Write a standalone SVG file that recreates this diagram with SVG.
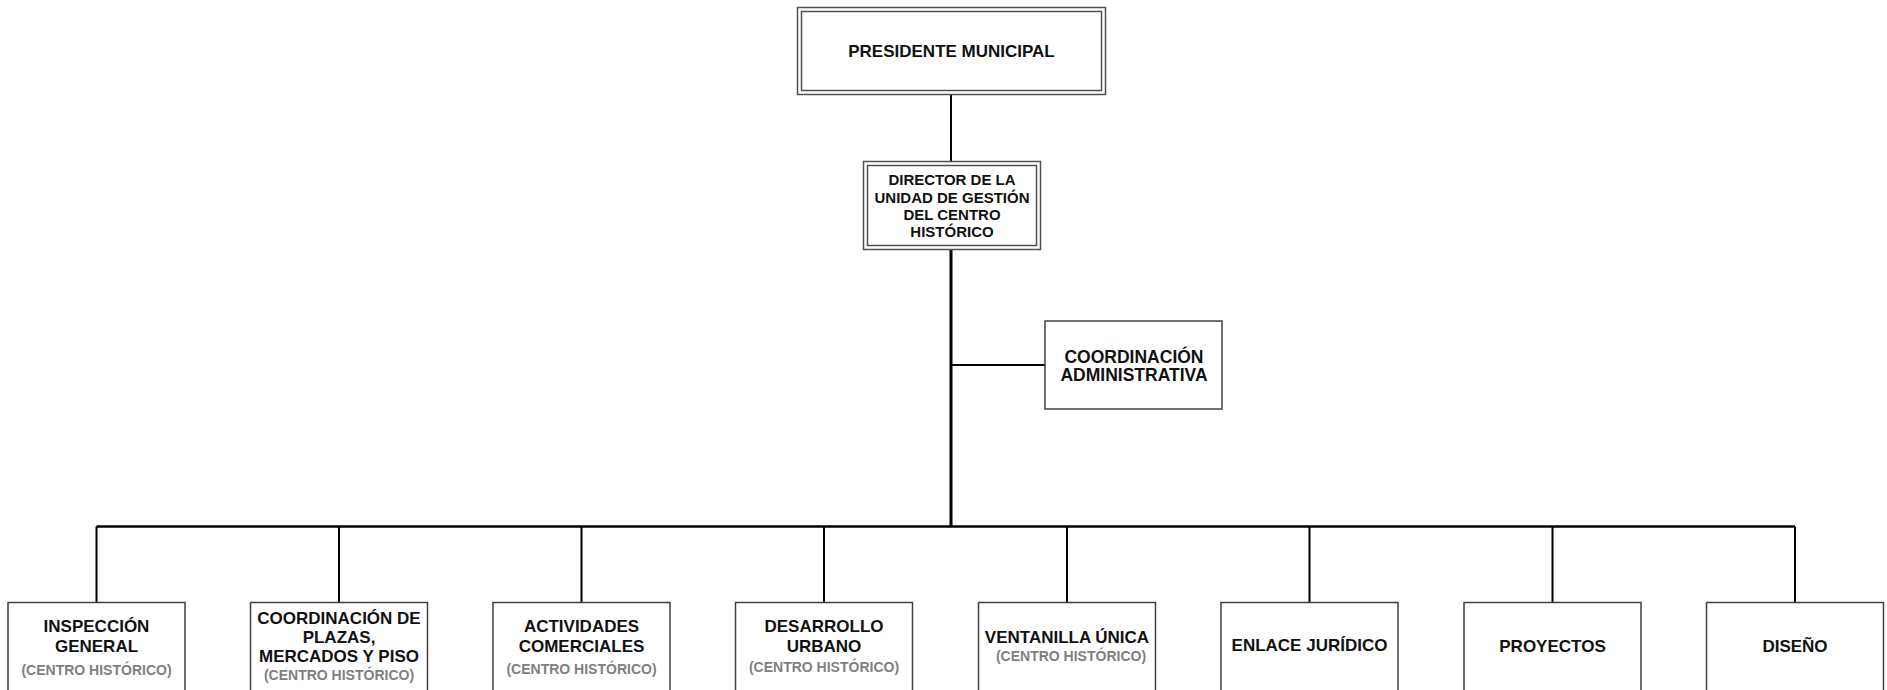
<svg xmlns="http://www.w3.org/2000/svg" width="1887" height="690" viewBox="0 0 1887 690">
<style>
.box{fill:#fff;stroke:#404040;stroke-width:1.5}
.dbl{fill:none;stroke:#505050;stroke-width:1.5}
.t{font-family:"Liberation Sans",Arial,sans-serif;font-weight:bold;fill:#111;text-anchor:middle}
.b{font-size:17px}
.g{font-size:14px;fill:#808080}
.c{stroke:#000;fill:none}
</style>
<rect width="1887" height="690" fill="#fff"/>
<g id="connectors">
<line class="c" x1="951" y1="95" x2="951" y2="161" stroke-width="2"/>
<line class="c" x1="951" y1="250" x2="951" y2="527" stroke-width="3"/>
<line class="c" x1="951" y1="365" x2="1045" y2="365" stroke-width="2"/>
<line class="c" x1="96.5" y1="526.5" x2="1795" y2="526.5" stroke-width="2.5"/>
<line class="c" x1="96.5" y1="526.5" x2="96.5" y2="602.5" stroke-width="2"/>
<line class="c" x1="339" y1="526.5" x2="339" y2="602.5" stroke-width="2"/>
<line class="c" x1="581.5" y1="526.5" x2="581.5" y2="602.5" stroke-width="2"/>
<line class="c" x1="824" y1="526.5" x2="824" y2="602.5" stroke-width="2"/>
<line class="c" x1="1067" y1="526.5" x2="1067" y2="602.5" stroke-width="2"/>
<line class="c" x1="1309.5" y1="526.5" x2="1309.5" y2="602.5" stroke-width="2"/>
<line class="c" x1="1552.5" y1="526.5" x2="1552.5" y2="602.5" stroke-width="2"/>
<line class="c" x1="1795" y1="526.5" x2="1795" y2="602.5" stroke-width="2"/>
</g>
<g id="presidente">
<rect x="797.5" y="7.5" width="308" height="87" fill="#fff" class="dbl"/>
<rect x="801.5" y="11.5" width="300" height="79" class="dbl"/>
<text class="t b" x="951.5" y="57">PRESIDENTE MUNICIPAL</text>
</g>
<g id="director">
<rect x="863.5" y="161.5" width="177" height="88" fill="#fff" class="dbl"/>
<rect x="867.5" y="165.5" width="169" height="80" class="dbl"/>
<text class="t" font-size="15" x="952" y="185">DIRECTOR DE LA</text>
<text class="t" font-size="15" x="952" y="202.5">UNIDAD DE GESTIÓN</text>
<text class="t" font-size="15" x="952" y="220">DEL CENTRO</text>
<text class="t" font-size="15" x="952" y="237">HISTÓRICO</text>
</g>
<g id="coord-admin">
<rect class="box" x="1045" y="321" width="177" height="88"/>
<text class="t" font-size="17.5" x="1134" y="363">COORDINACIÓN</text>
<text class="t" font-size="17.5" x="1134" y="381">ADMINISTRATIVA</text>
</g>
<g id="inspeccion">
<rect class="box" x="8" y="602.5" width="177" height="100"/>
<text class="t b" x="96.5" y="632">INSPECCIÓN</text>
<text class="t b" x="96.5" y="652">GENERAL</text>
<text class="t g" x="96.5" y="675">(CENTRO HISTÓRICO)</text>
</g>
<g id="plazas">
<rect class="box" x="250.5" y="602.5" width="177" height="100"/>
<text class="t b" x="339" y="624">COORDINACIÓN DE</text>
<text class="t b" x="339" y="643">PLAZAS,</text>
<text class="t b" x="339" y="662">MERCADOS Y PISO</text>
<text class="t g" x="339" y="680">(CENTRO HISTÓRICO)</text>
</g>
<g id="actividades">
<rect class="box" x="493" y="602.5" width="177" height="100"/>
<text class="t b" x="581.5" y="632">ACTIVIDADES</text>
<text class="t b" x="581.5" y="652">COMERCIALES</text>
<text class="t g" x="581.5" y="674">(CENTRO HISTÓRICO)</text>
</g>
<g id="desarrollo">
<rect class="box" x="735.5" y="602.5" width="177" height="100"/>
<text class="t b" x="824" y="632">DESARROLLO</text>
<text class="t b" x="824" y="652">URBANO</text>
<text class="t g" x="824" y="672">(CENTRO HISTÓRICO)</text>
</g>
<g id="ventanilla">
<rect class="box" x="978.5" y="602.5" width="177" height="100"/>
<text class="t b" x="1067" y="643">VENTANILLA ÚNICA</text>
<text class="t g" x="1071" y="661">(CENTRO HISTÓRICO)</text>
</g>
<g id="enlace">
<rect class="box" x="1221" y="602.5" width="177" height="100"/>
<text class="t b" x="1309.5" y="651">ENLACE JURÍDICO</text>
</g>
<g id="proyectos">
<rect class="box" x="1464" y="602.5" width="177" height="100"/>
<text class="t b" x="1552.5" y="652">PROYECTOS</text>
</g>
<g id="diseno">
<rect class="box" x="1706.5" y="602.5" width="177" height="100"/>
<text class="t b" x="1795" y="652">DISEÑO</text>
</g>
</svg>
